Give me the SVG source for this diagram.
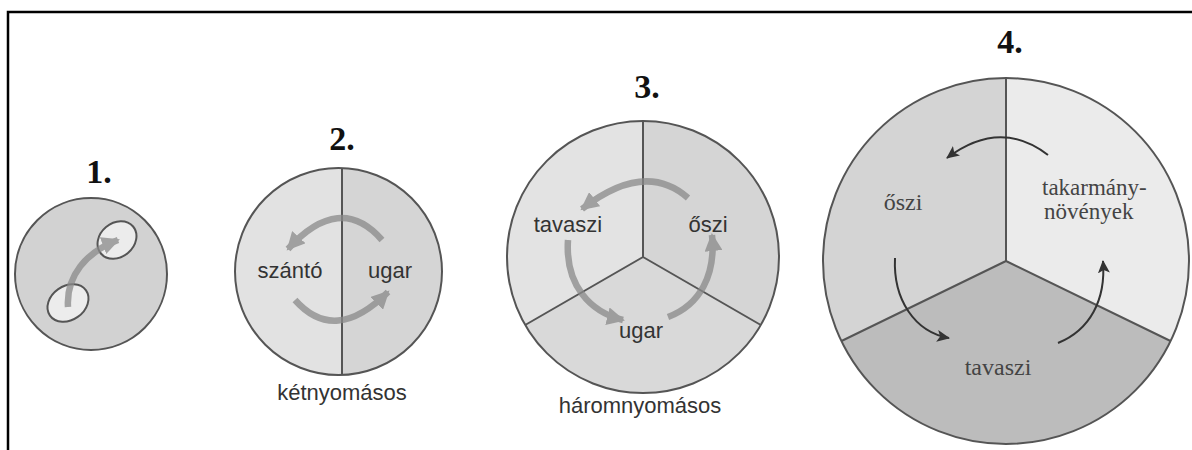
<svg xmlns="http://www.w3.org/2000/svg" width="1192" height="450" viewBox="0 0 1192 450">
<style>
.num{font-family:"Liberation Serif","Times New Roman",serif;font-weight:bold;font-size:34px;fill:#111;text-anchor:middle}
.sans{font-family:"Liberation Sans",Arial,sans-serif;font-size:22px;fill:#333;text-anchor:middle}
.serif{font-family:"Liberation Serif","Times New Roman",serif;font-size:24px;fill:#444;text-anchor:middle}
.serif.left{text-anchor:start;font-size:23px}
.edge{stroke:#555;stroke-width:2}
.line{stroke:#555;stroke-width:2;fill:none}
.garr{fill:none;stroke:#8a8a8a;stroke-width:6.5;marker-end:url(#gh)}
.barr{fill:none;stroke:#333;stroke-width:2;marker-end:url(#bh)}
</style>
<defs>
<marker id="gh" markerUnits="userSpaceOnUse" markerWidth="20" markerHeight="18" refX="16" refY="9" orient="auto">
<path d="M0,0 L18,9 L0,18 z" fill="#8a8a8a"/>
</marker>
<marker id="bh" markerUnits="userSpaceOnUse" markerWidth="14" markerHeight="12" refX="12" refY="6" orient="auto">
<path d="M0,0 L13,6 L0,12 L3,6 z" fill="#333"/>
</marker>
</defs>
<rect width="1192" height="450" fill="#fff"/>
<path d="M8,450 V12 H1192" stroke="#000" stroke-width="2.5" fill="none"/>

<g id="n1">
<text class="num" x="99" y="183">1.</text>
<circle cx="91" cy="274" r="76" fill="#d2d2d2" class="edge"/>
<ellipse cx="117" cy="240" rx="21" ry="17" transform="rotate(-40 117 240)" fill="#ececec" class="edge"/>
<ellipse cx="68" cy="303" rx="22" ry="17" transform="rotate(-35 68 303)" fill="#ececec" class="edge"/>
</g>

<g id="n2">
<text class="num" x="342" y="150">2.</text>
<circle cx="338.5" cy="271.5" r="103.5" fill="#e2e2e2"/>
<path d="M342,168.06 A103.5,103.5 0 0 1 342,374.94 z" fill="#d5d5d5"/>
<circle cx="338.5" cy="271.5" r="103.5" class="line"/>
<line x1="342" y1="168" x2="342" y2="375" class="line"/>
<text class="sans" x="290" y="278">szántó</text>
<text class="sans" x="390" y="278">ugar</text>
<text class="sans" x="342" y="400">kétnyomásos</text>
</g>

<g id="n3">
<text class="num" x="647" y="98">3.</text>
<path d="M643,257 L643,121 A136,136 0 0 0 525.2,325 z" fill="#e3e3e3"/>
<path d="M643,257 L643,121 A136,136 0 0 1 760.8,325 z" fill="#d5d5d5"/>
<path d="M643,257 L525.2,325 A136,136 0 0 0 760.8,325 z" fill="#d9d9d9"/>
<circle cx="643" cy="257" r="136" class="line"/>
<path d="M643,121 L643,257 L525.2,325 M643,257 L760.8,325" class="line"/>
<text class="sans" x="568" y="232" font-size="23">tavaszi</text>
<text class="sans" x="708" y="232" font-size="23">őszi</text>
<text class="sans" x="641" y="338" font-size="23">ugar</text>
<text class="sans" x="640" y="413">háromnyomásos</text>
</g>

<g id="n4">
<text class="num" x="1010" y="53">4.</text>
<path d="M1006,261 L1006,78 A183,183 0 0 0 841.5,341 z" fill="#d4d4d4"/>
<path d="M1006,261 L1006,78 A183,183 0 0 1 1170.5,341 z" fill="#ebebeb"/>
<path d="M1006,261 L841.5,341 A183,183 0 0 0 1170.5,341 z" fill="#bcbcbc"/>
<circle cx="1006" cy="261" r="183" class="line"/>
<path d="M1006,78 L1006,261 L841.5,341 M1006,261 L1170.5,341" class="line"/>
<text class="serif" x="903" y="210">őszi</text>
<text class="serif left" x="1042" y="195">takarmány-</text>
<text class="serif left" x="1044" y="219">növények</text>
<text class="serif" x="998" y="375">tavaszi</text>
</g>

<g id="connectors">
<g opacity="0.75">
<path class="garr" d="M68,307 C66,276 86,252 118,240"/>
</g>
<g opacity="0.75">
<path class="garr" d="M382,240 Q340,192 288,249"/>
</g>
<g opacity="0.75">
<path class="garr" d="M295,300 Q335,345 388,292"/>
</g>
<g opacity="0.75">
<path class="garr" d="M688,198 Q645,160 582,209"/>
</g>
<g opacity="0.75">
<path class="garr" d="M568,240 C565,285 590,312 623,320"/>
</g>
<g opacity="0.75">
<path class="garr" d="M668,317 C700,305 716,275 712,235"/>
</g>
<path class="barr" d="M1048,155 Q1000,118 947,158"/>
<path class="barr" d="M895,258 C893,300 915,332 949,338"/>
<path class="barr" d="M1058,343 C1090,330 1106,300 1103,261"/>
</g>
</svg>
